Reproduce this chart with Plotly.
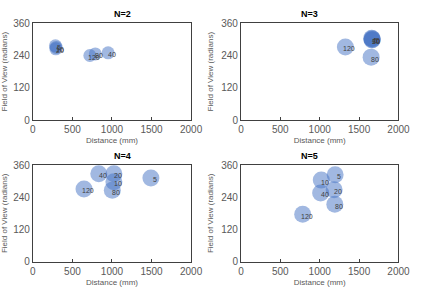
import plotly.graph_objects as go

labels = ["5", "10", "20", "40", "80", "120"]

n2_dist = [285, 295, 290, 951, 789, 720]
n2_fov = [276, 270, 265, 250, 246, 240]

n3_dist = [1660, 1668, 1664, 1666, 1653, 1326]
n3_fov = [304, 300, 298, 302, 234, 272]

n4_dist = [1492, 1024, 1024, 833, 1004, 646]
n4_fov = [312, 298, 328, 328, 266, 271]

n5_dist = [1196, 1020, 1183, 1012, 1192, 784]
n5_fov = [324, 304, 268, 256, 214, 177]

titles = ["N=2", "N=3", "N=4", "N=5"]
x_ticks = [0, 500, 1000, 1500, 2000]
y_ticks = [0, 120, 240, 360]

panels = [(n2_dist, n2_fov), (n3_dist, n3_fov), (n4_dist, n4_fov), (n5_dist, n5_fov)]
marker_sizes = [13, 17, 17, 17]

W, H = 423, 289
xdoms = [(31 / W, 195 / W), (246.7 / W, 410 / W), (31 / W, 195 / W), (246.7 / W, 410 / W)]
ydoms = [(1 - 119 / H, 1 - 18 / H), (1 - 119 / H, 1 - 18 / H),
         (1 - 266.7 / H, 1 - 166 / H), (1 - 266.7 / H, 1 - 166 / H)]

fig = go.Figure()
font_family = "Liberation Sans, Arial, sans-serif"
grey = "#595959"

layout = dict(
    width=W, height=H, margin=dict(l=0, r=0, t=0, b=0),
    paper_bgcolor="white", plot_bgcolor="white", showlegend=False,
    font=dict(family=font_family, color=grey),
)
annotations = []
for i, ((xs, ys), title) in enumerate(zip(panels, titles)):
    k = "" if i == 0 else str(i + 1)
    fig.add_trace(go.Scatter(
        x=xs, y=ys, mode="markers",
        marker=dict(size=marker_sizes[i], color="rgba(68,114,196,0.5)", line=dict(width=0)),
        xaxis="x" + k, yaxis="y" + k, hoverinfo="skip",
    ))
    for xv, yv, t in zip(xs, ys, labels):
        annotations.append(dict(
            x=xv, y=yv, xref="x" + k, yref="y" + k, text=t, showarrow=False,
            xshift=4, yshift=-2, font=dict(size=7, color="#404040", family=font_family),
        ))
    annotations.append(dict(
        x=(xdoms[i][0] + xdoms[i][1]) / 2, y=ydoms[i][1], xref="paper", yref="paper",
        yanchor="bottom", yshift=2, text="<b>" + title + "</b>", showarrow=False,
        font=dict(size=9, color="#000000", family=font_family),
    ))
    layout["xaxis" + k] = dict(
        domain=list(xdoms[i]), anchor="y" + k, range=[0, 2000], tickvals=x_ticks,
        showgrid=False, zeroline=False, showline=True, linecolor="#404040", linewidth=1,
        mirror=True, ticks="inside", ticklen=3, tickcolor="#404040",
        tickfont=dict(size=10, color=grey),
        title=dict(text="Distance (mm)", font=dict(size=8, color=grey), standoff=3),
    )
    layout["yaxis" + k] = dict(
        domain=list(ydoms[i]), anchor="x" + k, range=[0, 360], tickvals=y_ticks,
        showgrid=False, zeroline=False, showline=True, linecolor="#404040", linewidth=1,
        mirror=True, ticks="", tickfont=dict(size=10, color=grey),
        title=dict(text="Field of View (radians)", font=dict(size=8, color=grey), standoff=6),
    )

layout["annotations"] = annotations
fig.update_layout(**layout)
fig.write_html("out.html")
